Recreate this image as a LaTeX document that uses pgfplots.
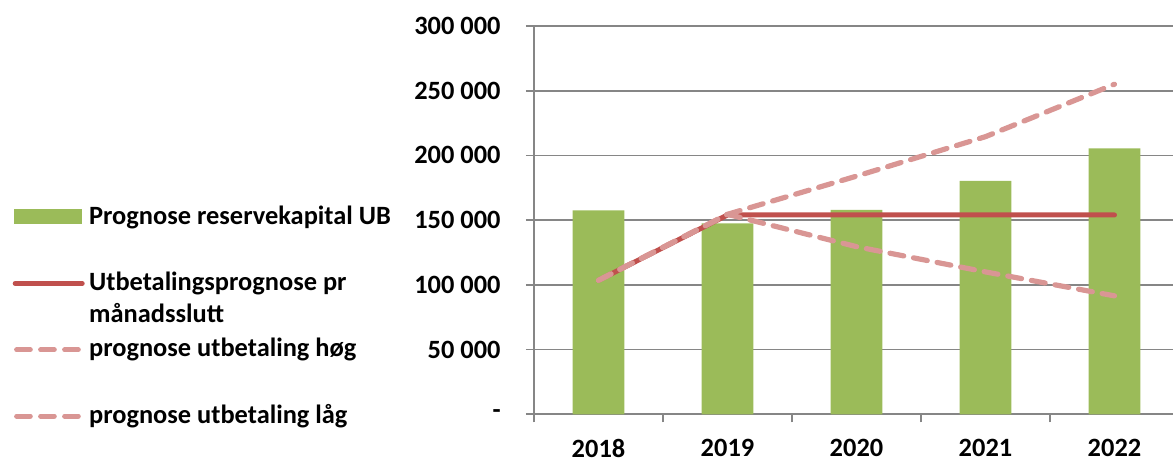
\documentclass[border=0pt]{standalone}
\usepackage{pgfplots}
\pgfplotsset{compat=1.18}
\usepackage{fontspec}
\setmainfont{Carlito}
\definecolor{barg}{HTML}{9BBB59}
\definecolor{lred}{HTML}{C0504D}
\definecolor{lpink}{HTML}{D99694}
\definecolor{gridg}{HTML}{868686}
\newcommand{\cfont}{\fontsize{13.2}{16}\selectfont\bfseries}
\begin{document}
\begin{tikzpicture}
\begin{axis}[
  at={(267pt,22.35pt)}, anchor=south west,
  scale only axis, width=322.5pt, height=194.15pt,
  xmin=-0.5, xmax=4.5, ymin=0, ymax=300000,
  scaled y ticks=false,
  axis x line=bottom, axis y line=left,
  axis line style={draw=gridg, line width=0.9pt, -},
  ytick={0,50000,100000,150000,200000,250000,300000},
  yticklabels={{-\hspace{5pt}},{50 000},{100 000},{150 000},{200 000},{250 000},{300 000}},
  ymajorgrids, grid style={draw=gridg, line width=0.9pt},
  tick align=outside, major tick length=4pt,
  tick style={draw=gridg, line width=0.9pt},
  xtick={-0.5,0.5,1.5,2.5,3.5,4.5}, xticklabels={},
  extra x ticks={0,1,2,3,4},
  extra x tick labels={2018,2019,2020,2021,2022},
  extra x tick style={major tick length=0pt, grid=none},
  ticklabel style={font=\cfont},
  yticklabel style={anchor=east, inner sep=0pt, xshift=-12.5pt},
  xticklabel style={anchor=north, inner sep=0pt, yshift=-12.3pt},
  legend style={at={(axis description cs:-0.8082,0.5408)}, anchor=north west,
    draw=none, fill=none, inner sep=0pt, outer sep=0pt, row sep=0pt, column sep=2.2pt,
    nodes={inner sep=0pt, outer sep=0pt, text height=10pt, text depth=23.17pt, anchor=base west},
    font=\cfont},
  legend cell align=left,
]
\addplot[ybar, bar width=25.8pt, fill=barg, draw=none,
  legend image code/.code={\fill[barg] (0pt,0.3pt) rectangle (34pt,7.5pt);}]
  coordinates {(0,157500) (1,147600) (2,157900) (3,180300) (4,205500)};
\addlegendentry{Prognose reservekapital UB}
\addplot[lred, line width=2.5pt, line cap=round, line join=round,
  legend image code/.code={\draw[lred, line width=2.5pt, line cap=round] (0.5pt,3.6pt) -- (34pt,3.6pt);}]
  coordinates {(0,103500) (1,154000) (2,154000) (3,154000) (4,154000)};
\addlegendentry{\vtop{\baselineskip=16pt\hbox{Utbetalingsprognose pr}\hbox{månadsslutt}}}
\addplot[lpink, line width=2.6pt, line cap=round, line join=round, dash pattern=on 7pt off 5pt,
  legend image code/.code={\draw[lpink, line width=2.6pt, line cap=round, dash pattern=on 6.75pt off 5.25pt] (1.25pt,3.6pt) -- (32pt,3.6pt);}]
  coordinates {(0,103500) (1,154500) (2,184000) (3,214500) (4,255000)};
\addlegendentry{prognose utbetaling høg}
\addplot[lpink, line width=2.6pt, line cap=round, line join=round, dash pattern=on 7pt off 5pt,
  legend image code/.code={\draw[lpink, line width=2.6pt, line cap=round, dash pattern=on 6.75pt off 5.25pt] (1.25pt,3.6pt) -- (32pt,3.6pt);}]
  coordinates {(0,103500) (1,154500) (2,129500) (3,110000) (4,91500)};
\addlegendentry{prognose utbetaling låg}
\end{axis}
\pgfresetboundingbox
\useasboundingbox (0,0) rectangle (586.5pt,229.5pt);
\end{tikzpicture}
\end{document}
